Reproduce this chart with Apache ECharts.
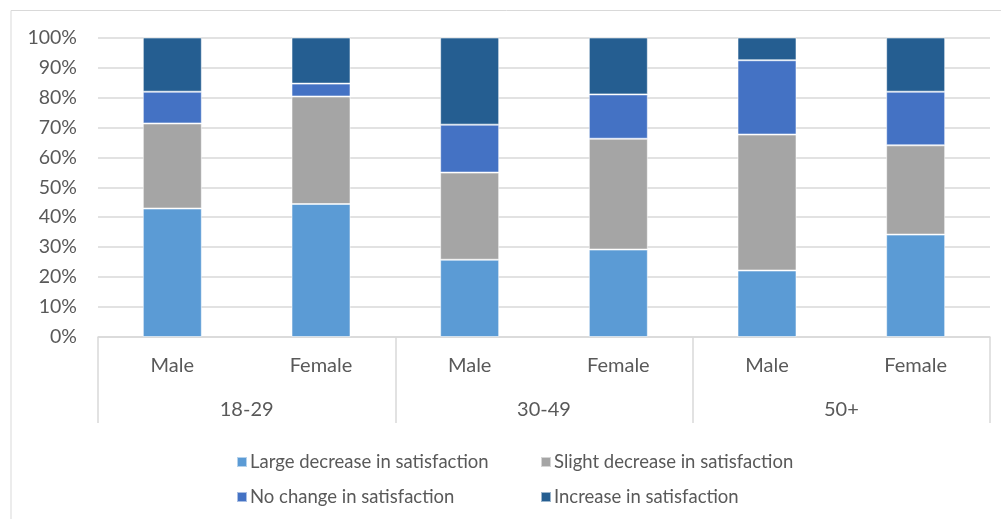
<!DOCTYPE html>
<html>
<head>
<meta charset="utf-8">
<script src="https://cdn.jsdelivr.net/npm/echarts@6/dist/echarts.min.js"></script>
<style>
  html, body { margin: 0; padding: 0; background: #fff; }
  #chart { width: 1001px; height: 519px; }
</style>
</head>
<body>
<div id="chart"></div>
<script>
// Respondents split by age group and gender
const genders = ['Male', 'Female', 'Male', 'Female', 'Male', 'Female'];
const ageGroups = ['18-29', '30-49', '50+'];

// Share of respondents (%) per change in satisfaction
const largeDecrease  = [42.9, 44.4, 25.8, 29.2, 22.2, 34.2];
const slightDecrease = [28.4, 35.9, 29.1, 37.0, 45.4, 29.8];
const noChange       = [10.6,  4.3, 16.0, 14.8, 24.8, 17.9];
const increase       = [18.1, 15.4, 29.1, 19.0,  7.6, 18.1];

const seriesNames = [
  'Large decrease in satisfaction',
  'Slight decrease in satisfaction',
  'No change in satisfaction',
  'Increase in satisfaction'
];
const seriesColors = ['#5B9BD5', '#A5A5A5', '#4472C4', '#255E91'];
const seriesValues = [largeDecrease, slightDecrease, noChange, increase];

const FONT = 'Lato, "Open Sans", sans-serif';
const TEXT = '#595959';
const LINE = '#D9D9D9';

const chart = echarts.init(document.getElementById('chart'), null, { renderer: 'canvas' });

const legendCommon = {
  orient: 'vertical',
  top: 447,
  itemWidth: 10,
  itemHeight: 10,
  itemGap: 15,
  icon: 'rect',
  textStyle: { fontFamily: FONT, fontSize: 18.5, lineHeight: 20, color: TEXT, padding: [0, 0, 0, -2] },
  selectedMode: false
};

chart.setOption({
  animation: false,
  backgroundColor: '#fff',
  graphic: [{
    type: 'rect',
    shape: { x: 11, y: 10.5, width: 1100, height: 600 },
    style: { fill: 'none', stroke: '#D9D9D9', lineWidth: 1 },
    silent: true
  }],
  legend: [
    Object.assign({}, legendCommon, { left: 231, data: [seriesNames[0], seriesNames[2]] }),
    Object.assign({}, legendCommon, { left: 535, data: [seriesNames[1], seriesNames[3]] })
  ],
  grid: { left: 98, right: 11, top: 37.5, bottom: 182, containLabel: false },
  xAxis: [
    {
      type: 'category',
      data: genders,
      position: 'bottom',
      axisLine: { show: true, lineStyle: { color: LINE, width: 1.5 } },
      axisTick: { show: false },
      axisLabel: { fontFamily: FONT, fontSize: 20, color: TEXT, margin: 19, interval: 0 }
    },
    {
      type: 'category',
      data: ageGroups,
      position: 'bottom',
      axisLine: { show: false },
      axisTick: { show: true, length: 86, interval: 0, lineStyle: { color: LINE, width: 1.5 } },
      axisLabel: { fontFamily: FONT, fontSize: 20, color: TEXT, margin: 63, interval: 0 }
    }
  ],
  yAxis: {
    type: 'value',
    min: 0,
    max: 100,
    interval: 10,
    axisLine: { show: false },
    axisTick: { show: false },
    splitLine: { lineStyle: { color: LINE, width: 1.5 } },
    axisLabel: { formatter: '{value}%', fontFamily: FONT, fontSize: 19.5, color: TEXT, margin: 21 }
  },
  series: seriesNames.map((name, i) => ({
    name: name,
    type: 'bar',
    stack: 'total',
    xAxisIndex: 0,
    barWidth: 59,
    data: seriesValues[i],
    itemStyle: { color: seriesColors[i], borderColor: 'rgba(255,255,255,0.55)', borderWidth: 1 }
  }))
});
</script>
</body>
</html>
